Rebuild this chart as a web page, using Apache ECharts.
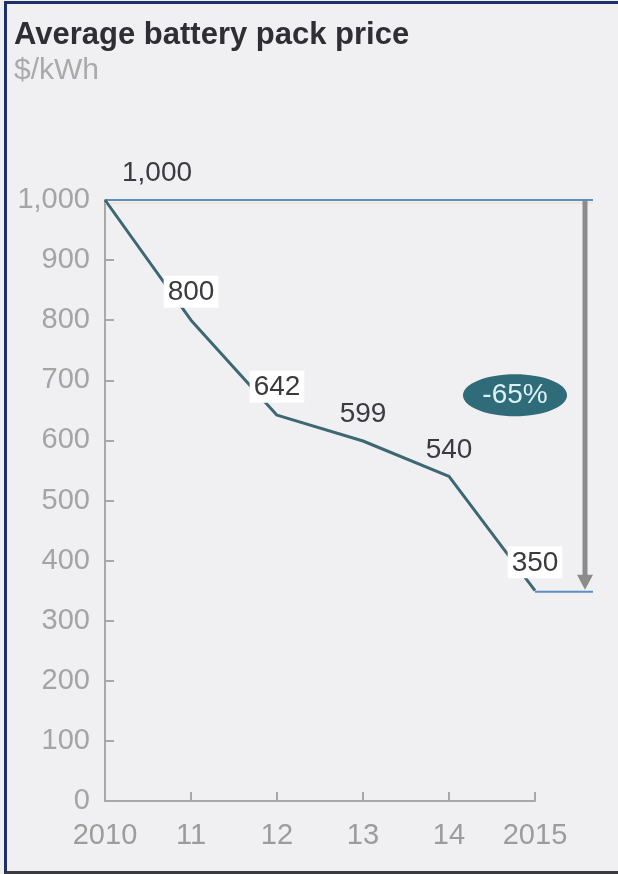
<!DOCTYPE html>
<html>
<head>
<meta charset="utf-8">
<script src="https://cdn.jsdelivr.net/npm/echarts@6/dist/echarts.min.js"></script>
<style>
  html, body { margin: 0; padding: 0; background: #f0f0f2; }
  #wrap { position: relative; width: 618px; height: 874px; }
  #chart { position: absolute; left: 0; top: 0; width: 618px; height: 874px; }
  #frame {
    position: absolute; left: 4px; top: 1px; right: 0; bottom: 0;
    border-left: 3px solid #1d3068; border-top: 3px solid #1d3068;
    border-bottom: 3px solid #3a3a40; pointer-events: none;
  }
</style>
</head>
<body>
<div id="wrap"><div id="chart"></div><div id="frame"></div></div>
<script>
// Average battery pack price, $/kWh
const years = ['2010', '11', '12', '13', '14', '2015'];
const prices = [1000, 800, 642, 599, 540, 350];
const yMin = 0, yMax = 1000, yStep = 100;

const FONT = '"Liberation Sans", Arial, sans-serif';
const boxed = new Set([1, 2, 5]);          // labels drawn on a white box
const first = prices[0], last = prices[prices.length - 1];
const changePct = Math.round((last / first - 1) * 100);

const chart = echarts.init(document.getElementById('chart'));

const seriesData = prices.map((v, i) => {
  const item = { value: v };
  const lbl = { show: true };
  if (boxed.has(i)) { lbl.backgroundColor = '#ffffff'; lbl.padding = [3, 4, 1, 4]; }
  if (i === 0) { lbl.offset = [52, 0]; }
  item.label = lbl;
  return item;
});

chart.setOption({
  backgroundColor: '#f0f0f2',
  animation: false,
  title: {
    text: 'Average battery pack price',
    subtext: '$/kWh',
    left: 9, top: 15, itemGap: 5,
    textStyle: { fontFamily: FONT, fontSize: 31, fontWeight: 'bold', color: '#2e2e34' },
    subtextStyle: { fontFamily: FONT, fontSize: 30, color: '#aaaaaa' }
  },
  grid: { left: 105, right: 83, top: 200, bottom: 73, containLabel: false },
  xAxis: {
    type: 'category', data: years, boundaryGap: false,
    axisLine: { lineStyle: { color: '#a8a8a8', width: 2 } },
    axisTick: { inside: true, length: 9, lineStyle: { color: '#a8a8a8', width: 2 } },
    axisLabel: { fontFamily: FONT, fontSize: 29, color: '#9c9c9c', margin: 20 }
  },
  yAxis: {
    type: 'value', min: yMin, max: yMax, interval: yStep,
    axisLine: { show: true, lineStyle: { color: '#a8a8a8', width: 2 } },
    axisTick: { show: true, inside: true, length: 9, lineStyle: { color: '#a8a8a8', width: 2 } },
    splitLine: { show: false },
    axisLabel: {
      fontFamily: FONT, fontSize: 29, color: '#a4a4a4', margin: 15,
      formatter: v => v.toLocaleString('en-US')
    }
  },
  series: [{
    type: 'line', data: seriesData,
    symbol: 'circle', symbolSize: 1, showSymbol: true,
    itemStyle: { color: 'rgba(0,0,0,0)' },
    lineStyle: { color: '#3d6773', width: 3 },
    label: {
      show: true, position: 'top', distance: 12,
      fontFamily: FONT, fontSize: 28, color: '#3a3a40',
      formatter: p => p.value.toLocaleString('en-US')
    },
    z: 3
  }]
});

// Reference lines, the drop arrow and the change badge, placed through the axes
function drawOverlay() {
  const n = prices.length - 1;
  const p0 = chart.convertToPixel({ seriesIndex: 0 }, [0, first]);
  const pN = chart.convertToPixel({ seriesIndex: 0 }, [n, last]);
  const pMid = chart.convertToPixel({ seriesIndex: 0 }, [n, (first + last) / 2]);
  const arrowX = pN[0] + 50;
  const lineEnd = pN[0] + 58;
  chart.setOption({
    graphic: [
      { type: 'line', shape: { x1: p0[0], y1: p0[1] + 3, x2: lineEnd, y2: p0[1] + 3 },
        style: { stroke: '#f4e6d6', lineWidth: 2 }, z: 1 },
      { type: 'line', shape: { x1: p0[0], y1: p0[1], x2: lineEnd, y2: p0[1] },
        style: { stroke: '#5b8fbf', lineWidth: 2 }, z: 2 },
      { type: 'line', shape: { x1: pN[0], y1: pN[1] + 1, x2: lineEnd, y2: pN[1] + 1 },
        style: { stroke: '#5b8fbf', lineWidth: 2 }, z: 2 },
      { type: 'line', shape: { x1: arrowX, y1: p0[1] + 1, x2: arrowX, y2: pN[1] - 14 },
        style: { stroke: '#8c8c8c', lineWidth: 5 }, z: 2 },
      { type: 'polygon',
        shape: { points: [[arrowX - 8, pN[1] - 16], [arrowX + 8, pN[1] - 16], [arrowX, pN[1] - 1]] },
        style: { fill: '#8c8c8c' }, z: 2 },
      { type: 'ellipse', shape: { cx: pMid[0] - 20, cy: pMid[1], rx: 52, ry: 21 },
        style: { fill: '#2f6b79' }, z: 4 },
      { type: 'text', x: pMid[0] - 20, y: pMid[1],
        style: { text: changePct + '%', fontFamily: FONT, fontSize: 28, fill: '#dcf1f5',
                 align: 'center', verticalAlign: 'middle' }, z: 5 }
    ]
  });
}
drawOverlay();
</script>
</body>
</html>
